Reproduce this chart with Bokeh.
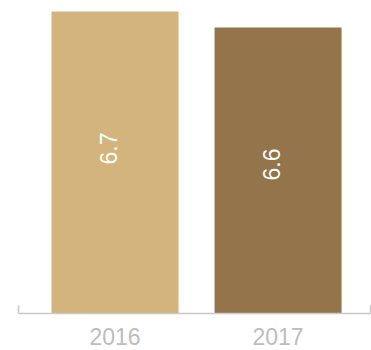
from bokeh.plotting import figure
from bokeh.models import ColumnDataSource, FixedTicker, Range1d
from bokeh.core.properties import value
from bokeh.embed import file_html
from bokeh.resources import INLINE

years = ["2016", "2017"]
positions = [1, 2]
values = [6.7, 6.6]
labels = ["6.7", "6.6"]
colors = ["#D3B47C", "#94744A"]

source = ColumnDataSource(dict(x=positions, top=values, label=labels, color=colors))

x0, x1 = 0.408, 2.567
y0, y1 = 4.8125, 6.719

p = figure(width=371, height=350, output_backend="svg", toolbar_location=None,
           x_range=Range1d(x0, x1), y_range=Range1d(y0, y1),
           min_border_left=18, min_border_right=1, min_border_top=8, min_border_bottom=37)
p.outline_line_color = None
p.background_fill_color = "white"
p.border_fill_color = "white"
p.grid.visible = False
p.yaxis.visible = False

p.vbar(x="x", top="top", bottom=y0, width=0.779, color="color", line_color=None, source=source)

p.text(x="x", y="top", text="label", source=source, angle=1.5708,
       text_align="center", text_baseline="middle", x_offset=-7, y_offset=137,
       text_color="white", text_font=value("Liberation Sans"), text_font_size="23px")

ax = p.xaxis[0]
ax.ticker = FixedTicker(ticks=positions, minor_ticks=[x0 + 0.002, x1 - 0.002])
ax.major_label_overrides = {pos: yr for pos, yr in zip(positions, years)}
ax.major_tick_line_color = None
ax.major_tick_out = 0
ax.major_tick_in = 0
ax.minor_tick_in = 8
ax.minor_tick_out = 0
ax.minor_tick_line_color = "#C8C8C8"
ax.minor_tick_line_width = 1.5
ax.axis_line_color = "#C8C8C8"
ax.axis_line_width = 1.5
ax.major_label_standoff = 14
ax.major_label_text_font = "Liberation Sans"
ax.major_label_text_font_size = "23px"
ax.major_label_text_color = "#BDBDBD"

open("out.html", "w").write(file_html(p, INLINE))
